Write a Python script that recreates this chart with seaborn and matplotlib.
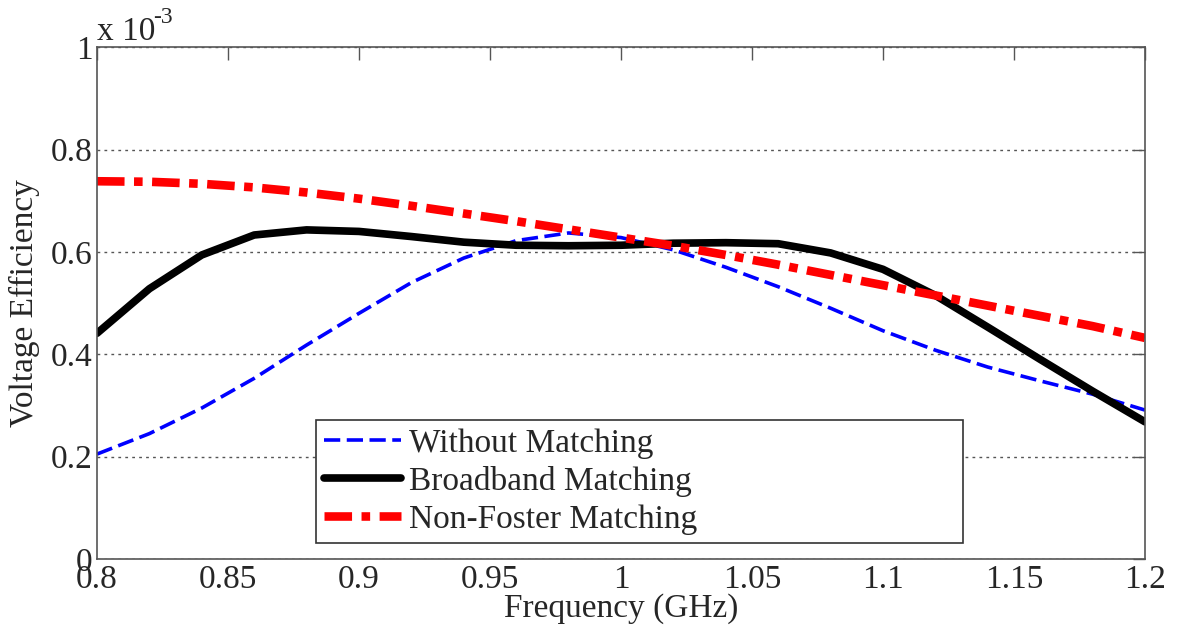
import numpy as np
import pandas as pd
import matplotlib
matplotlib.use("Agg")
import matplotlib.pyplot as plt
import seaborn as sns

# frecuencias (GHz) y eficiencias en unidades de 1e-3
freq = [0.80, 0.82, 0.84, 0.86, 0.88, 0.90, 0.92, 0.94, 0.96, 0.98, 1.00,
        1.02, 1.04, 1.06, 1.08, 1.10, 1.12, 1.14, 1.16, 1.18, 1.20]
sin_match = [0.205, 0.245, 0.295, 0.353, 0.418, 0.480, 0.540, 0.588, 0.622, 0.637, 0.628,
             0.604, 0.570, 0.532, 0.490, 0.446, 0.408, 0.375, 0.348, 0.322, 0.291]
broadband = [0.441, 0.528, 0.594, 0.633, 0.643, 0.640, 0.630, 0.619, 0.613, 0.612, 0.613,
             0.617, 0.618, 0.616, 0.598, 0.566, 0.515, 0.453, 0.390, 0.328, 0.268]
non_foster = [0.738, 0.737, 0.733, 0.726, 0.716, 0.704, 0.690, 0.675, 0.660, 0.644, 0.628,
              0.612, 0.594, 0.575, 0.555, 0.535, 0.515, 0.495, 0.475, 0.455, 0.432]

series = ["Without Matching", "Broadband Matching", "Non-Foster Matching"]
xticks = [0.8, 0.85, 0.9, 0.95, 1.0, 1.05, 1.1, 1.15, 1.2]
xlabels = ["0.8", "0.85", "0.9", "0.95", "1", "1.05", "1.1", "1.15", "1.2"]
yticks = [0, 0.2, 0.4, 0.6, 0.8, 1.0]
ylabels = ["0", "0.2", "0.4", "0.6", "0.8", "1"]

df = pd.DataFrame({"freq": freq, series[0]: sin_match,
                   series[1]: broadband, series[2]: non_foster})

sns.set_style("white")
plt.rcParams["font.family"] = ["Liberation Serif", "DejaVu Serif"]
plt.rcParams["font.size"] = 24

fig = plt.figure(figsize=(11.77, 6.37), dpi=100)
ax = fig.add_axes([0.0824, 0.1224, 0.8904, 0.8036])

# estilos de cada curva
estilos = {
    series[0]: dict(color="#0000ff", lw=2.6, dashes=(4.5, 1.8)),
    series[1]: dict(color="black", lw=5.5, dashes=None),
    series[2]: dict(color="#ff0000", lw=6.2, dashes=(3.2, 1.1, 1.0, 1.1)),
}
for s in series:
    e = estilos[s]
    sns.lineplot(data=df, x="freq", y=s, ax=ax, color=e["color"], lw=e["lw"], label=s)
    if e["dashes"] is not None:
        ax.lines[-1].set_dashes(e["dashes"])

ax.set_xlim(0.8, 1.2)
ax.set_ylim(0, 1)
ax.set_xticks(xticks)
ax.set_xticklabels(xlabels)
ax.set_yticks(yticks)
ax.set_yticklabels(ylabels)
ax.tick_params(direction="in", length=9, width=1, color="#555555",
               top=True, right=True, labelsize=24)
ax.tick_params(axis="x", pad=4)
ax.tick_params(axis="y", pad=3)
ax.grid(axis="y", linestyle=(0, (2, 3)), color="#555555", lw=1)
for sp in ax.spines.values():
    sp.set_color("#555555")
    sp.set_linewidth(1.2)

ax.set_xlabel("Frequency (GHz)", fontsize=24, labelpad=-1)
ax.set_ylabel("Voltage Efficiency", fontsize=24, labelpad=8)

ax.text(0.0, 1.014, "x 10", transform=ax.transAxes, fontsize=24, ha="left", va="baseline")
ax.text(0.054, 1.048, "-3", transform=ax.transAxes, fontsize=17, ha="left", va="baseline")

leg = ax.legend(loc="lower left", bbox_to_anchor=(0.209, 0.031, 0.617, 0.244),
                mode="expand", fancybox=False, framealpha=1, edgecolor="#333333",
                fontsize=24, handlelength=2.3, handletextpad=0.25,
                borderpad=0.25, labelspacing=0.22, borderaxespad=0)
leg.get_frame().set_linewidth(1.2)

plt.savefig("out.png", dpi=100)
plt.close()
